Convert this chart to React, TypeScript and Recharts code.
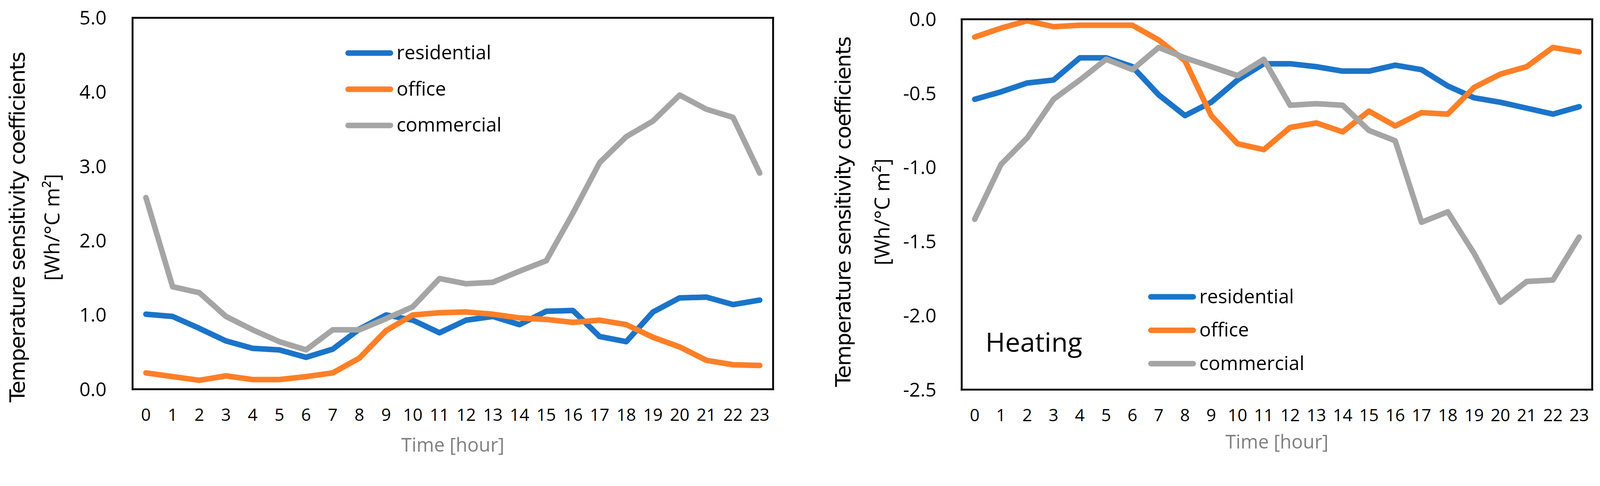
import React from 'react';
import { LineChart, Line, XAxis, YAxis, Legend } from 'recharts';

// ---------- data ----------
const hours = [0, 1, 2, 3, 4, 5, 6, 7, 8, 9, 10, 11, 12, 13, 14, 15, 16, 17, 18, 19, 20, 21, 22, 23];

const coolResidential = [1.01, 0.98, 0.82, 0.65, 0.55, 0.53, 0.43, 0.54, 0.81, 1.0, 0.93, 0.76, 0.93, 0.98, 0.87, 1.05, 1.06, 0.71, 0.64, 1.04, 1.23, 1.24, 1.14, 1.2];
const coolOffice = [0.22, 0.17, 0.12, 0.18, 0.13, 0.13, 0.17, 0.22, 0.42, 0.79, 1.0, 1.03, 1.04, 1.01, 0.96, 0.94, 0.9, 0.93, 0.87, 0.7, 0.57, 0.39, 0.33, 0.32];
const coolCommercial = [2.58, 1.38, 1.3, 0.98, 0.8, 0.64, 0.53, 0.8, 0.8, 0.95, 1.11, 1.49, 1.42, 1.44, 1.59, 1.73, 2.37, 3.05, 3.4, 3.61, 3.96, 3.77, 3.66, 2.91];

const heatResidential = [-0.54, -0.49, -0.43, -0.41, -0.26, -0.26, -0.32, -0.51, -0.65, -0.56, -0.41, -0.3, -0.3, -0.32, -0.35, -0.35, -0.31, -0.34, -0.45, -0.53, -0.56, -0.6, -0.64, -0.59];
const heatOffice = [-0.12, -0.06, -0.01, -0.05, -0.04, -0.04, -0.04, -0.14, -0.28, -0.65, -0.84, -0.88, -0.73, -0.7, -0.76, -0.62, -0.72, -0.63, -0.64, -0.46, -0.37, -0.32, -0.19, -0.22];
const heatCommercial = [-1.35, -0.98, -0.8, -0.54, -0.41, -0.27, -0.34, -0.19, -0.26, -0.32, -0.38, -0.27, -0.58, -0.57, -0.58, -0.75, -0.82, -1.37, -1.3, -1.58, -1.91, -1.77, -1.76, -1.47];

const coolTicks = [0, 1, 2, 3, 4, 5];
const heatTicks = [-2.5, -2, -1.5, -1, -0.5, 0];

const seriesNames = ['residential', 'office', 'commercial'];
const seriesColors = ['#1B74C9', '#FF7F27', '#A5A5A5'];

const xTitle = 'Time [hour]';
const yTitleLine1 = 'Temperature sensitivity coefficients';
const yTitleLine2 = '[Wh/°C m²]';
const heatingText = 'Heating';

const coolingData = hours.map((h, i) => ({
  hour: h,
  residential: coolResidential[i],
  office: coolOffice[i],
  commercial: coolCommercial[i],
}));
const heatingData = hours.map((h, i) => ({
  hour: h,
  residential: heatResidential[i],
  office: heatOffice[i],
  commercial: heatCommercial[i],
}));

// ---------- styles ----------
const PAGE_W = 4309;
const PAGE_H = 1245;
const TICK_FONT = 'Open Sans';
const frameLine = { stroke: '#000', strokeWidth: 5, strokeLinecap: 'square' as const };
const fmt = (v: number) => v.toFixed(1);

// ---------- helpers ----------
const LegendBox = ({ rowGap }: { rowGap: number }) => (
  <svg width={460} height={rowGap * 2 + 100} style={{ display: 'block', overflow: 'visible' }}>
    {seriesNames.map((name, i) => {
      const cy = 48 + i * rowGap;
      return (
        <g key={name}>
          <line x1={7.5} x2={121.5} y1={cy} y2={cy} stroke={seriesColors[i]} strokeWidth={15} strokeLinecap="round" />
          <text x={138} y={cy + 17} fontFamily={TICK_FONT} fontSize={52} fill="#000">
            {name}
          </text>
        </g>
      );
    })}
  </svg>
);

const makeYTitle = (fallback: { x: number; y: number; width: number; height: number }, l1x: number, l2x: number, dy: number) =>
  (props: any) => {
    const vb = props && props.viewBox && typeof props.viewBox.y === 'number' ? props.viewBox : fallback;
    const cy = vb.y + vb.height / 2 + dy;
    const x1 = vb.x + l1x;
    const x2 = vb.x + l2x;
    return (
      <g>
        <text x={x1} y={cy} transform={`rotate(-90 ${x1} ${cy})`} textAnchor="middle" fontFamily="DejaVu Sans" fontSize={57} letterSpacing={-2} fill="#000">
          {yTitleLine1}
        </text>
        <text x={x2} y={cy} transform={`rotate(-90 ${x2} ${cy})`} textAnchor="middle" fontFamily={TICK_FONT} fontSize={56} fill="#000">
          {yTitleLine2}
        </text>
      </g>
    );
  };

const makeXTitle = (fallback: { x: number; y: number; width: number; height: number }, dy: number) =>
  (props: any) => {
    const vb = props && props.viewBox && typeof props.viewBox.y === 'number' ? props.viewBox : fallback;
    return (
      <text x={vb.x + vb.width / 2} y={vb.y + dy} textAnchor="middle" fontFamily={TICK_FONT} fontSize={51} fill="#7F7F7F">
        {xTitle}
      </text>
    );
  };

const renderLines = () =>
  seriesNames.map((name, i) => (
    <Line
      key={name}
      type="linear"
      dataKey={name}
      name={name}
      stroke={seriesColors[i]}
      strokeWidth={15}
      strokeLinejoin="round"
      strokeLinecap="round"
      dot={false}
      activeDot={false}
      isAnimationActive={false}
    />
  ));

const getScale = () => {
  if (typeof window === 'undefined' || !window.innerWidth) return 1;
  return window.innerWidth / PAGE_W;
};

export default function App() {
  const [scale, setScale] = React.useState(getScale);
  React.useEffect(() => {
    const onResize = () => setScale(getScale());
    window.addEventListener('resize', onResize);
    onResize();
    return () => window.removeEventListener('resize', onResize);
  }, []);

  return (
    <div style={{ position: 'fixed', left: 0, top: 0, width: '100vw', height: '100vh', overflow: 'hidden', background: '#fff' }}>
      <div
        style={{
          position: 'absolute',
          left: 0,
          top: 0,
          width: PAGE_W,
          height: PAGE_H,
          background: '#fff',
          transform: `scale(${scale})`,
          transformOrigin: '0 0',
        }}
      >
        {/* Cooling chart */}
        <div style={{ position: 'absolute', left: 0, top: 0, width: 2150, height: PAGE_H }}>
          <LineChart width={2150} height={PAGE_H} data={coolingData} margin={{ top: 47, right: 67, bottom: 0, left: 0 }}>
            <XAxis
              dataKey="hour"
              scale="point"
              padding={{ left: 36, right: 36 }}
              height={196}
              interval={0}
              tickLine={false}
              tickSize={0}
              tickMargin={52}
              axisLine={frameLine}
              tick={{ fontFamily: TICK_FONT, fontSize: 46, fill: '#000' }}
              label={{ content: makeXTitle({ x: 357, y: 1049, width: 1725, height: 196 }, 168) }}
            />
            <XAxis xAxisId="top" dataKey="hour" orientation="top" height={1} tick={false} tickLine={false} axisLine={frameLine} />
            <YAxis
              type="number"
              domain={[0, 5]}
              ticks={coolTicks}
              interval={0}
              width={357}
              tickLine={false}
              tickSize={0}
              tickMargin={70}
              axisLine={frameLine}
              tickFormatter={fmt}
              tick={{ fontFamily: TICK_FONT, fontSize: 52, fill: '#000' }}
              label={{ content: makeYTitle({ x: 0, y: 48, width: 357, height: 1001 }, 66, 160, 64) }}
            />
            <YAxis yAxisId="right" orientation="right" type="number" domain={[0, 5]} width={1} tick={false} tickLine={false} axisLine={frameLine} />
            {renderLines()}
            <Legend
              layout="horizontal"
              align="center"
              verticalAlign="middle"
              content={() => <LegendBox rowGap={97.5} />}
              wrapperStyle={{ position: 'absolute', left: 930, top: 95, width: 460, height: 300, margin: 0, padding: 0 }}
            />
          </LineChart>
        </div>

        {/* Heating chart */}
        <div style={{ position: 'absolute', left: 2150, top: 0, width: 2159, height: PAGE_H }}>
          <LineChart width={2159} height={PAGE_H} data={heatingData} margin={{ top: 51, right: 20, bottom: 0, left: 0 }}>
            <XAxis
              dataKey="hour"
              scale="point"
              padding={{ left: 35, right: 35 }}
              height={195}
              interval={0}
              tickLine={false}
              tickSize={0}
              tickMargin={52}
              axisLine={frameLine}
              tick={{ fontFamily: TICK_FONT, fontSize: 46, fill: '#000' }}
              label={{ content: makeXTitle({ x: 440, y: 1050, width: 1698, height: 195 }, 159) }}
            />
            <XAxis xAxisId="top" dataKey="hour" orientation="top" height={1} tick={false} tickLine={false} axisLine={frameLine} />
            <YAxis
              type="number"
              domain={[-2.5, 0]}
              ticks={heatTicks}
              interval={0}
              width={440}
              tickLine={false}
              tickSize={0}
              tickMargin={68}
              axisLine={frameLine}
              tickFormatter={fmt}
              tick={{ fontFamily: TICK_FONT, fontSize: 52, fill: '#000' }}
              label={{ content: makeYTitle({ x: 0, y: 52, width: 440, height: 998 }, 140, 245, 20) }}
            />
            <YAxis yAxisId="right" orientation="right" type="number" domain={[-2.5, 0]} width={1} tick={false} tickLine={false} axisLine={frameLine} />
            {renderLines()}
            <Legend
              layout="horizontal"
              align="center"
              verticalAlign="middle"
              content={() => <LegendBox rowGap={90} />}
              wrapperStyle={{ position: 'absolute', left: 942, top: 752, width: 460, height: 300, margin: 0, padding: 0 }}
            />
          </LineChart>
          <svg width={2159} height={PAGE_H} style={{ position: 'absolute', left: 0, top: 0, pointerEvents: 'none' }}>
            <text x={504} y={948} fontFamily={TICK_FONT} fontSize={72} fill="#000">
              {heatingText}
            </text>
          </svg>
        </div>
      </div>
    </div>
  );
}
